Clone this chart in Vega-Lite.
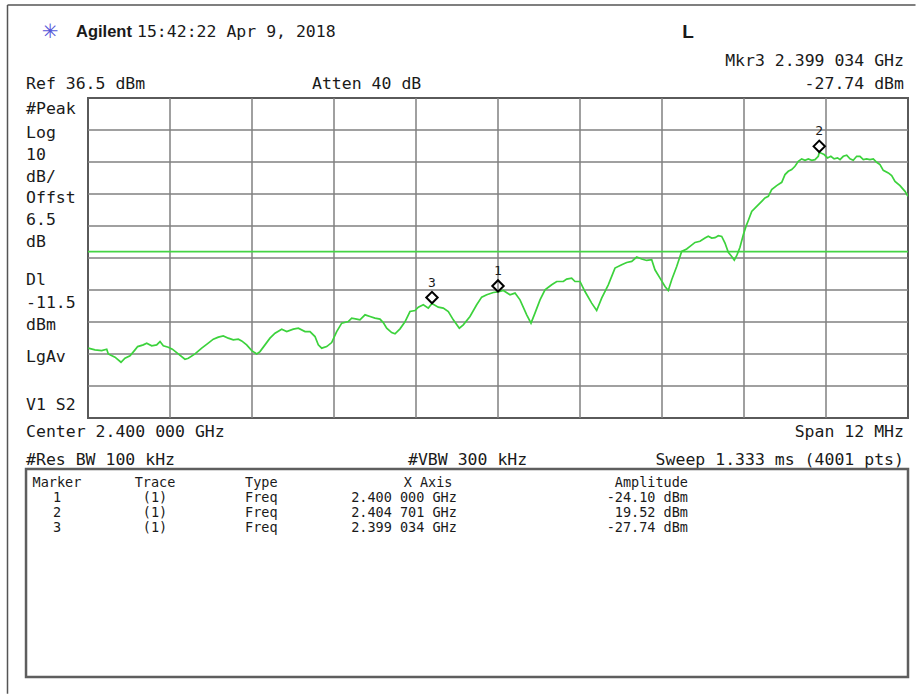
{
  "$schema": "https://vega.github.io/schema/vega-lite/v6.json",
  "width": 820,
  "height": 320,
  "autosize": {"type": "none"},
  "padding": {"left": 88, "top": 98, "right": 8, "bottom": 276},
  "background": "white",
  "config": {
    "view": {"stroke": "#5a5a5a", "strokeWidth": 2},
    "text": {"font": "DejaVu Sans Mono", "color": "#1a1a1a"}
  },
  "datasets": {
    "trace": [
      {"freq_MHz": 2394.004, "dBm": -41.68}, {"freq_MHz": 2394.102, "dBm": -42.22}, {"freq_MHz": 2394.200, "dBm": -42.44},
      {"freq_MHz": 2394.274, "dBm": -42.00}, {"freq_MHz": 2394.297, "dBm": -43.47}, {"freq_MHz": 2394.395, "dBm": -44.50},
      {"freq_MHz": 2394.483, "dBm": -46.07}, {"freq_MHz": 2394.541, "dBm": -44.81}, {"freq_MHz": 2394.615, "dBm": -44.09},
      {"freq_MHz": 2394.688, "dBm": -42.22}, {"freq_MHz": 2394.727, "dBm": -41.18}, {"freq_MHz": 2394.809, "dBm": -40.65},
      {"freq_MHz": 2394.859, "dBm": -40.12}, {"freq_MHz": 2394.932, "dBm": -40.96}, {"freq_MHz": 2395.005, "dBm": -40.65},
      {"freq_MHz": 2395.054, "dBm": -39.62}, {"freq_MHz": 2395.102, "dBm": -40.96}, {"freq_MHz": 2395.175, "dBm": -41.37},
      {"freq_MHz": 2395.234, "dBm": -42.00}, {"freq_MHz": 2395.321, "dBm": -43.47}, {"freq_MHz": 2395.419, "dBm": -45.13},
      {"freq_MHz": 2395.468, "dBm": -44.81}, {"freq_MHz": 2395.566, "dBm": -43.47}, {"freq_MHz": 2395.664, "dBm": -41.68},
      {"freq_MHz": 2395.760, "dBm": -40.12}, {"freq_MHz": 2395.834, "dBm": -38.87}, {"freq_MHz": 2395.907, "dBm": -38.24},
      {"freq_MHz": 2395.980, "dBm": -37.84}, {"freq_MHz": 2396.053, "dBm": -38.55}, {"freq_MHz": 2396.126, "dBm": -39.09},
      {"freq_MHz": 2396.200, "dBm": -38.87}, {"freq_MHz": 2396.249, "dBm": -39.40}, {"freq_MHz": 2396.322, "dBm": -40.65},
      {"freq_MHz": 2396.396, "dBm": -42.44}, {"freq_MHz": 2396.469, "dBm": -43.47}, {"freq_MHz": 2396.517, "dBm": -42.75},
      {"freq_MHz": 2396.590, "dBm": -40.65}, {"freq_MHz": 2396.663, "dBm": -38.55}, {"freq_MHz": 2396.737, "dBm": -36.99},
      {"freq_MHz": 2396.835, "dBm": -35.74}, {"freq_MHz": 2396.908, "dBm": -36.49}, {"freq_MHz": 2397.004, "dBm": -35.74},
      {"freq_MHz": 2397.078, "dBm": -35.43}, {"freq_MHz": 2397.176, "dBm": -36.49}, {"freq_MHz": 2397.249, "dBm": -36.49},
      {"freq_MHz": 2397.322, "dBm": -38.05}, {"freq_MHz": 2397.370, "dBm": -40.65}, {"freq_MHz": 2397.420, "dBm": -41.68},
      {"freq_MHz": 2397.493, "dBm": -41.18}, {"freq_MHz": 2397.566, "dBm": -39.93}, {"freq_MHz": 2397.639, "dBm": -36.49},
      {"freq_MHz": 2397.713, "dBm": -33.86}, {"freq_MHz": 2397.809, "dBm": -33.36}, {"freq_MHz": 2397.859, "dBm": -32.30},
      {"freq_MHz": 2397.932, "dBm": -32.61}, {"freq_MHz": 2397.980, "dBm": -32.83}, {"freq_MHz": 2398.054, "dBm": -31.26},
      {"freq_MHz": 2398.127, "dBm": -31.79}, {"freq_MHz": 2398.200, "dBm": -32.30}, {"freq_MHz": 2398.273, "dBm": -32.61},
      {"freq_MHz": 2398.321, "dBm": -33.67}, {"freq_MHz": 2398.371, "dBm": -35.43}, {"freq_MHz": 2398.444, "dBm": -36.80},
      {"freq_MHz": 2398.493, "dBm": -37.21}, {"freq_MHz": 2398.566, "dBm": -35.64}, {"freq_MHz": 2398.639, "dBm": -33.45},
      {"freq_MHz": 2398.712, "dBm": -30.23}, {"freq_MHz": 2398.785, "dBm": -29.92}, {"freq_MHz": 2398.834, "dBm": -28.85},
      {"freq_MHz": 2398.907, "dBm": -28.13}, {"freq_MHz": 2398.980, "dBm": -29.16}, {"freq_MHz": 2399.034, "dBm": -27.74},
      {"freq_MHz": 2399.126, "dBm": -28.85}, {"freq_MHz": 2399.199, "dBm": -29.16}, {"freq_MHz": 2399.273, "dBm": -30.23},
      {"freq_MHz": 2399.346, "dBm": -32.83}, {"freq_MHz": 2399.434, "dBm": -35.43}, {"freq_MHz": 2399.492, "dBm": -34.39},
      {"freq_MHz": 2399.590, "dBm": -31.79}, {"freq_MHz": 2399.688, "dBm": -28.13}, {"freq_MHz": 2399.761, "dBm": -25.72},
      {"freq_MHz": 2399.835, "dBm": -25.00}, {"freq_MHz": 2399.931, "dBm": -24.28}, {"freq_MHz": 2400.000, "dBm": -24.10},
      {"freq_MHz": 2400.078, "dBm": -23.66}, {"freq_MHz": 2400.176, "dBm": -25.00}, {"freq_MHz": 2400.249, "dBm": -24.47},
      {"freq_MHz": 2400.322, "dBm": -26.57}, {"freq_MHz": 2400.420, "dBm": -31.26}, {"freq_MHz": 2400.483, "dBm": -33.86},
      {"freq_MHz": 2400.541, "dBm": -30.73}, {"freq_MHz": 2400.615, "dBm": -26.57}, {"freq_MHz": 2400.688, "dBm": -23.44},
      {"freq_MHz": 2400.786, "dBm": -21.87}, {"freq_MHz": 2400.859, "dBm": -20.84}, {"freq_MHz": 2400.956, "dBm": -20.84},
      {"freq_MHz": 2401.005, "dBm": -20.09}, {"freq_MHz": 2401.078, "dBm": -19.78}, {"freq_MHz": 2401.127, "dBm": -20.84},
      {"freq_MHz": 2401.200, "dBm": -20.84}, {"freq_MHz": 2401.273, "dBm": -23.97}, {"freq_MHz": 2401.371, "dBm": -27.60},
      {"freq_MHz": 2401.444, "dBm": -29.92}, {"freq_MHz": 2401.517, "dBm": -26.04}, {"freq_MHz": 2401.614, "dBm": -21.87},
      {"freq_MHz": 2401.712, "dBm": -16.65}, {"freq_MHz": 2401.810, "dBm": -15.61}, {"freq_MHz": 2401.883, "dBm": -14.89},
      {"freq_MHz": 2401.957, "dBm": -14.58}, {"freq_MHz": 2402.030, "dBm": -13.20}, {"freq_MHz": 2402.103, "dBm": -13.83},
      {"freq_MHz": 2402.176, "dBm": -14.27}, {"freq_MHz": 2402.249, "dBm": -14.05}, {"freq_MHz": 2402.297, "dBm": -17.18},
      {"freq_MHz": 2402.371, "dBm": -19.78}, {"freq_MHz": 2402.444, "dBm": -22.40}, {"freq_MHz": 2402.492, "dBm": -23.66},
      {"freq_MHz": 2402.542, "dBm": -20.31}, {"freq_MHz": 2402.615, "dBm": -16.14}, {"freq_MHz": 2402.688, "dBm": -11.45},
      {"freq_MHz": 2402.761, "dBm": -10.70}, {"freq_MHz": 2402.810, "dBm": -9.88}, {"freq_MHz": 2402.883, "dBm": -8.63},
      {"freq_MHz": 2402.956, "dBm": -8.26}, {"freq_MHz": 2403.029, "dBm": -7.26}, {"freq_MHz": 2403.077, "dBm": -6.69},
      {"freq_MHz": 2403.127, "dBm": -7.26}, {"freq_MHz": 2403.176, "dBm": -7.16}, {"freq_MHz": 2403.224, "dBm": -6.54},
      {"freq_MHz": 2403.274, "dBm": -6.76}, {"freq_MHz": 2403.322, "dBm": -8.82}, {"freq_MHz": 2403.370, "dBm": -11.70},
      {"freq_MHz": 2403.420, "dBm": -13.01}, {"freq_MHz": 2403.458, "dBm": -14.14}, {"freq_MHz": 2403.493, "dBm": -12.80},
      {"freq_MHz": 2403.541, "dBm": -10.14}, {"freq_MHz": 2403.590, "dBm": -6.22}, {"freq_MHz": 2403.629, "dBm": -3.62},
      {"freq_MHz": 2403.663, "dBm": -1.78}, {"freq_MHz": 2403.713, "dBm": 1.07}, {"freq_MHz": 2403.786, "dBm": 2.63},
      {"freq_MHz": 2403.859, "dBm": 4.20}, {"freq_MHz": 2403.907, "dBm": 5.26}, {"freq_MHz": 2403.956, "dBm": 5.76},
      {"freq_MHz": 2404.005, "dBm": 7.86}, {"freq_MHz": 2404.078, "dBm": 9.11}, {"freq_MHz": 2404.152, "dBm": 10.15},
      {"freq_MHz": 2404.200, "dBm": 12.56}, {"freq_MHz": 2404.248, "dBm": 13.59}, {"freq_MHz": 2404.298, "dBm": 14.12},
      {"freq_MHz": 2404.346, "dBm": 15.15}, {"freq_MHz": 2404.395, "dBm": 16.72}, {"freq_MHz": 2404.444, "dBm": 17.47},
      {"freq_MHz": 2404.493, "dBm": 17.03}, {"freq_MHz": 2404.541, "dBm": 17.47}, {"freq_MHz": 2404.591, "dBm": 17.03},
      {"freq_MHz": 2404.639, "dBm": 17.25}, {"freq_MHz": 2404.687, "dBm": 18.28}, {"freq_MHz": 2404.701, "dBm": 19.52},
      {"freq_MHz": 2404.773, "dBm": 18.82}, {"freq_MHz": 2404.822, "dBm": 17.78}, {"freq_MHz": 2404.871, "dBm": 18.28},
      {"freq_MHz": 2404.919, "dBm": 17.47}, {"freq_MHz": 2404.969, "dBm": 17.78}, {"freq_MHz": 2405.005, "dBm": 17.25},
      {"freq_MHz": 2405.053, "dBm": 18.28}, {"freq_MHz": 2405.103, "dBm": 18.60}, {"freq_MHz": 2405.151, "dBm": 17.47},
      {"freq_MHz": 2405.199, "dBm": 17.03}, {"freq_MHz": 2405.249, "dBm": 18.28}, {"freq_MHz": 2405.297, "dBm": 18.28},
      {"freq_MHz": 2405.346, "dBm": 17.25}, {"freq_MHz": 2405.395, "dBm": 17.47}, {"freq_MHz": 2405.444, "dBm": 17.25},
      {"freq_MHz": 2405.492, "dBm": 17.47}, {"freq_MHz": 2405.542, "dBm": 16.41}, {"freq_MHz": 2405.590, "dBm": 15.69},
      {"freq_MHz": 2405.638, "dBm": 13.90}, {"freq_MHz": 2405.712, "dBm": 13.09}, {"freq_MHz": 2405.761, "dBm": 12.24},
      {"freq_MHz": 2405.810, "dBm": 10.46}, {"freq_MHz": 2405.883, "dBm": 9.11}, {"freq_MHz": 2405.956, "dBm": 7.33},
      {"freq_MHz": 2406.000, "dBm": 5.76}
    ],
    "grid_freq": [
      {"freq_MHz": 2395.2}, {"freq_MHz": 2396.4}, {"freq_MHz": 2397.6}, {"freq_MHz": 2398.8}, {"freq_MHz": 2400.0},
      {"freq_MHz": 2401.2}, {"freq_MHz": 2402.4}, {"freq_MHz": 2403.6}, {"freq_MHz": 2404.8}
    ],
    "grid_level": [
      {"dBm": 26.5}, {"dBm": 16.5}, {"dBm": 6.5}, {"dBm": -3.5}, {"dBm": -13.5},
      {"dBm": -23.5}, {"dBm": -33.5}, {"dBm": -43.5}, {"dBm": -53.5}
    ],
    "markers": [
      {"marker": 1, "trace": "(1)", "type": "Freq", "freq_MHz": 2400.000, "x_axis": "2.400 000 GHz", "dBm": -24.10, "amplitude": "-24.10 dBm"},
      {"marker": 2, "trace": "(1)", "type": "Freq", "freq_MHz": 2404.701, "x_axis": "2.404 701 GHz", "dBm": 19.52, "amplitude": "19.52 dBm"},
      {"marker": 3, "trace": "(1)", "type": "Freq", "freq_MHz": 2399.034, "x_axis": "2.399 034 GHz", "dBm": -27.74, "amplitude": "-27.74 dBm"}
    ],
    "left_notes": [
      {"text": "Ref 36.5 dBm", "dBm": 40.9},
      {"text": "#Peak", "dBm": 33.06},
      {"text": "Log", "dBm": 25.56},
      {"text": "10", "dBm": 18.69},
      {"text": "dB/", "dBm": 11.81},
      {"text": "Offst", "dBm": 5.25},
      {"text": "6.5", "dBm": -1.63},
      {"text": "dB", "dBm": -8.5},
      {"text": "Dl", "dBm": -20.38},
      {"text": "-11.5", "dBm": -27.56},
      {"text": "dBm", "dBm": -34.44},
      {"text": "LgAv", "dBm": -44.44},
      {"text": "V1 S2", "dBm": -59.44},
      {"text": "Center 2.400 000 GHz", "dBm": -67.88},
      {"text": "#Res BW 100 kHz", "dBm": -76.63}
    ],
    "right_notes": [
      {"text": "Mkr3  2.399 034 GHz", "dBm": 48.06},
      {"text": "-27.74 dBm", "dBm": 40.9},
      {"text": "Span 12 MHz", "dBm": -67.88},
      {"text": "Sweep 1.333 ms (4001 pts)", "dBm": -76.63}
    ],
    "mid_notes": [
      {"text": "15:42:22  Apr 9, 2018", "freq_MHz": 2394.717, "dBm": 57.13},
      {"text": "Atten 40 dB", "freq_MHz": 2397.278, "dBm": 40.9},
      {"text": "#VBW 300 kHz", "freq_MHz": 2398.683, "dBm": -76.63}
    ]
  },
  "resolve": {"scale": {"y": "independent"}},
  "layer": [
    {
      "layer": [
        {
          "data": {"name": "grid_freq"},
          "mark": {"type": "rule", "color": "#808080", "strokeWidth": 1.5},
          "encoding": {
            "x": {"field": "freq_MHz", "type": "quantitative",
              "scale": {"domain": [2394, 2406], "nice": false, "zero": false}, "axis": null}
          }
        },
        {
          "data": {"name": "grid_level"},
          "mark": {"type": "rule", "color": "#808080", "strokeWidth": 1.5},
          "encoding": {
            "y": {"field": "dBm", "type": "quantitative",
              "scale": {"domain": [-63.5, 36.5], "nice": false, "zero": false}, "axis": null}
          }
        },
        {
          "data": {"values": [{}]},
          "mark": {"type": "rule", "color": "#44d444", "strokeWidth": 1.8},
          "encoding": {"y": {"datum": -11.5, "type": "quantitative"}}
        },
        {
          "data": {"name": "trace"},
          "mark": {"type": "line", "color": "#3cd23c", "strokeWidth": 1.7, "clip": true},
          "encoding": {
            "x": {"field": "freq_MHz", "type": "quantitative"},
            "y": {"field": "dBm", "type": "quantitative"}
          }
        },
        {
          "data": {"name": "markers"},
          "mark": {"type": "point", "shape": "diamond", "filled": false, "stroke": "#000000", "strokeWidth": 2, "size": 130, "yOffset": -6, "opacity": 1},
          "encoding": {
            "x": {"field": "freq_MHz", "type": "quantitative"},
            "y": {"field": "dBm", "type": "quantitative"}
          }
        },
        {
          "data": {"name": "markers"},
          "mark": {"type": "text", "fontSize": 13, "yOffset": -21, "align": "center"},
          "encoding": {
            "x": {"field": "freq_MHz", "type": "quantitative"},
            "y": {"field": "dBm", "type": "quantitative"},
            "text": {"field": "marker"}
          }
        },
        {
          "data": {"name": "left_notes"},
          "mark": {"type": "text", "fontSize": 16.5, "align": "left"},
          "encoding": {
            "x": {"datum": 2393.093, "type": "quantitative"},
            "y": {"field": "dBm", "type": "quantitative"},
            "text": {"field": "text"}
          }
        },
        {
          "data": {"name": "right_notes"},
          "mark": {"type": "text", "fontSize": 16.5, "align": "right"},
          "encoding": {
            "x": {"datum": 2405.941, "type": "quantitative"},
            "y": {"field": "dBm", "type": "quantitative"},
            "text": {"field": "text"}
          }
        },
        {
          "data": {"name": "mid_notes"},
          "mark": {"type": "text", "fontSize": 16.5, "align": "left"},
          "encoding": {
            "x": {"field": "freq_MHz", "type": "quantitative"},
            "y": {"field": "dBm", "type": "quantitative"},
            "text": {"field": "text"}
          }
        },
        {
          "data": {"values": [{}]},
          "mark": {"type": "text", "font": "Liberation Sans", "fontWeight": "bold", "fontSize": 16.5, "align": "left", "text": "Agilent"},
          "encoding": {"x": {"datum": 2393.824, "type": "quantitative"}, "y": {"datum": 57.13, "type": "quantitative"}}
        },
        {
          "data": {"values": [{}]},
          "mark": {"type": "text", "font": "Liberation Sans", "fontWeight": "bold", "fontSize": 19, "align": "center", "text": "L"},
          "encoding": {"x": {"datum": 2402.78, "type": "quantitative"}, "y": {"datum": 57.13, "type": "quantitative"}}
        },
        {
          "data": {"values": [{}]},
          "mark": {"type": "text", "font": "DejaVu Sans", "fontSize": 20, "align": "center", "color": "#5555d8", "text": "✳"},
          "encoding": {"x": {"datum": 2393.444, "type": "quantitative"}, "y": {"datum": 57.13, "type": "quantitative"}}
        },
        {
          "data": {"values": [{}]},
          "mark": {"type": "rule", "color": "#555555", "strokeWidth": 1.5},
          "encoding": {
            "x": {"datum": 2392.822, "type": "quantitative"},
            "y": {"datum": 65.56, "type": "quantitative"}, "y2": {"datum": -149.7}
          }
        },
        {
          "data": {"values": [{}]},
          "mark": {"type": "rule", "color": "#555555", "strokeWidth": 1.5},
          "encoding": {
            "x": {"datum": 2392.822, "type": "quantitative"}, "x2": {"datum": 2406.11},
            "y": {"datum": 65.56, "type": "quantitative"}
          }
        },
        {
          "data": {"values": [{}]},
          "mark": {"type": "rect", "fill": "transparent", "stroke": "#5e5e5e", "strokeWidth": 2.5},
          "encoding": {
            "x": {"datum": 2393.093, "type": "quantitative"}, "x2": {"datum": 2406.0},
            "y": {"datum": -79.44, "type": "quantitative"}, "y2": {"datum": -144.44}
          }
        }
      ]
    },
    {
      "layer": [
        {
          "data": {"name": "markers"},
          "mark": {"type": "text", "fontSize": 13.5, "align": "center"},
          "encoding": {
            "x": {"datum": 2393.546, "type": "quantitative"},
            "y": {"field": "marker", "type": "quantitative", "scale": {"domain": [-25.667, -4.333], "reverse": true, "nice": false, "zero": false}, "axis": null},
            "text": {"field": "marker"}
          }
        },
        {
          "data": {"name": "markers"},
          "mark": {"type": "text", "fontSize": 13.5, "align": "center"},
          "encoding": {
            "x": {"datum": 2394.98, "type": "quantitative"},
            "y": {"field": "marker", "type": "quantitative", "axis": null},
            "text": {"field": "trace"}
          }
        },
        {
          "data": {"name": "markers"},
          "mark": {"type": "text", "fontSize": 13.5, "align": "left"},
          "encoding": {
            "x": {"datum": 2396.298, "type": "quantitative"},
            "y": {"field": "marker", "type": "quantitative", "axis": null},
            "text": {"field": "type"}
          }
        },
        {
          "data": {"name": "markers"},
          "mark": {"type": "text", "fontSize": 13.5, "align": "center"},
          "encoding": {
            "x": {"datum": 2398.624, "type": "quantitative"},
            "y": {"field": "marker", "type": "quantitative", "axis": null},
            "text": {"field": "x_axis"}
          }
        },
        {
          "data": {"name": "markers"},
          "mark": {"type": "text", "fontSize": 13.5, "align": "right"},
          "encoding": {
            "x": {"datum": 2402.78, "type": "quantitative"},
            "y": {"field": "marker", "type": "quantitative", "axis": null},
            "text": {"field": "amplitude"}
          }
        },
        {
          "data": {"values": [{}]},
          "mark": {"type": "text", "fontSize": 13.5, "align": "center", "text": "Marker"},
          "encoding": {"x": {"datum": 2393.546, "type": "quantitative"}, "y": {"datum": 0, "type": "quantitative", "axis": null}}
        },
        {
          "data": {"values": [{}]},
          "mark": {"type": "text", "fontSize": 13.5, "align": "center", "text": "Trace"},
          "encoding": {"x": {"datum": 2394.98, "type": "quantitative"}, "y": {"datum": 0, "type": "quantitative", "axis": null}}
        },
        {
          "data": {"values": [{}]},
          "mark": {"type": "text", "fontSize": 13.5, "align": "left", "text": "Type"},
          "encoding": {"x": {"datum": 2396.298, "type": "quantitative"}, "y": {"datum": 0, "type": "quantitative", "axis": null}}
        },
        {
          "data": {"values": [{}]},
          "mark": {"type": "text", "fontSize": 13.5, "align": "center", "text": "X Axis"},
          "encoding": {"x": {"datum": 2398.976, "type": "quantitative"}, "y": {"datum": 0, "type": "quantitative", "axis": null}}
        },
        {
          "data": {"values": [{}]},
          "mark": {"type": "text", "fontSize": 13.5, "align": "right", "text": "Amplitude"},
          "encoding": {"x": {"datum": 2402.78, "type": "quantitative"}, "y": {"datum": 0, "type": "quantitative", "axis": null}}
        }
      ]
    }
  ]
}
